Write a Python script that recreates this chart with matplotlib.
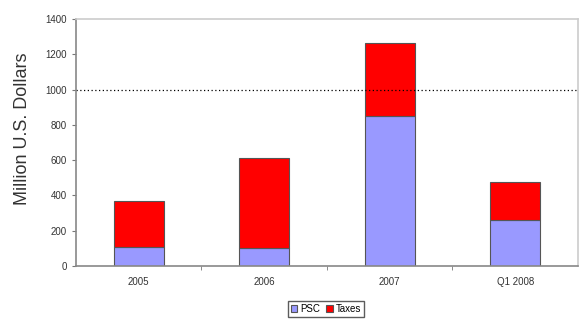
import matplotlib.pyplot as plt
import numpy as np

categories = ["2005", "2006", "2007", "Q1 2008"]
psc = [108, 104, 850, 258]
taxes = [260, 506, 412, 220]

plt.rcParams["font.family"] = "Liberation Sans"

fig = plt.figure(figsize=(5.86, 3.25), dpi=100)
ax = fig.add_axes([0.1297, 0.1815, 0.8566, 0.76])

x = np.arange(len(categories))
ax.bar(x, psc, width=0.4, color="#9999ff", edgecolor="#555555", linewidth=0.8, label="PSC")
ax.bar(x, taxes, width=0.4, bottom=psc, color="#ff0000", edgecolor="#555555", linewidth=0.8, label="Taxes")

ax.axhline(1000, color="black", linestyle=(0, (1, 2)), linewidth=0.9)

ax.set_xlim(-0.5, len(categories) - 0.5)
ax.set_ylim(0, 1400)
ax.set_yticks(range(0, 1401, 200))
ax.set_xticks(x)
ax.set_xticklabels(categories)
ax.set_xticks(np.arange(0.5, len(categories) - 1, 1), minor=True)
ax.tick_params(axis="x", which="major", length=0, labelsize=7, colors="#333333", pad=8)
ax.tick_params(axis="x", which="minor", length=3, direction="out", color="#777777")
ax.tick_params(axis="y", length=3, direction="out", labelsize=7, colors="#333333", color="#777777")

for s in ["left", "bottom"]:
    ax.spines[s].set_color("#888888")
    ax.spines[s].set_linewidth(1.2)
for s in ["top", "right"]:
    ax.spines[s].set_color("#cccccc")
    ax.spines[s].set_linewidth(1.2)

ax.set_ylabel("Million U.S. Dollars", fontsize=13, color="#333333")
ax.yaxis.set_label_coords(-0.09, 0.555)

fig.legend(loc="center", bbox_to_anchor=(0.556, 0.049), ncol=2, fontsize=7,
           frameon=True, edgecolor="#333333", fancybox=False, handlelength=0.7,
           handleheight=0.7, handletextpad=0.3, columnspacing=0.6, borderpad=0.3)

fig.savefig("out.png", dpi=100)
